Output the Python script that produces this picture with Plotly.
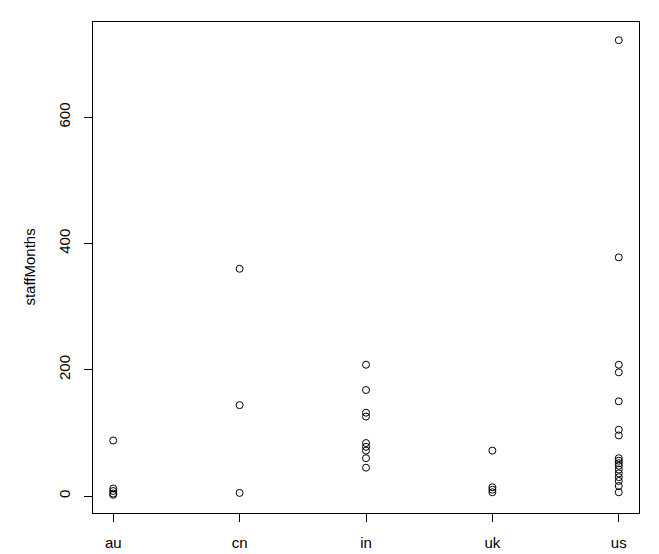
import plotly.graph_objects as go

countries = ["au", "cn", "in", "uk", "us"]
au_vals = [88, 12, 8, 4, 2]
cn_vals = [360, 144, 5]
in_vals = [208, 168, 132, 126, 84, 78, 72, 60, 45]
uk_vals = [72, 14, 10, 6]
us_vals = [722, 378, 208, 196, 150, 105, 96, 60, 56, 52, 48, 42, 36, 30, 24, 16, 6]
y_ticks = [0, 200, 400, 600]

groups = [au_vals, cn_vals, in_vals, uk_vals, us_vals]
xs, ys = [], []
for c, vals in zip(countries, groups):
    xs += [c] * len(vals)
    ys += vals

ymin, ymax = min(ys), max(ys)
pad = 0.04 * (ymax - ymin)

fig = go.Figure(go.Scatter(
    x=xs, y=ys, mode="markers",
    marker=dict(symbol="circle-open", size=7, color="black", line=dict(width=1, color="black")),
    showlegend=False, hoverinfo="x+y",
))

font = dict(family="Liberation Sans, Arial, Helvetica, sans-serif", size=15, color="black")
# page body has an 8px default margin, so the figure is sized to fit the 659x554 window
fig.update_layout(
    template="none",
    width=651, height=546,
    margin=dict(l=85, r=20, t=14, b=41, pad=0, autoexpand=False),
    paper_bgcolor="white", plot_bgcolor="white",
    font=font,
    xaxis=dict(type="category", categoryorder="array", categoryarray=countries,
               range=[-0.16, len(countries) - 1 + 0.16], automargin=False,
               showgrid=False, zeroline=False, showline=True, mirror=True,
               linecolor="black", linewidth=1,
               ticks="outside", ticklen=8, tickcolor="black", tickwidth=1,
               ticklabelstandoff=8, tickfont=font),
    yaxis=dict(range=[ymin - pad, ymax + pad], tickvals=y_ticks, automargin=False,
               showgrid=False, zeroline=False, showline=True, mirror=True,
               linecolor="black", linewidth=1,
               ticks="outside", ticklen=8, tickcolor="black", tickwidth=1,
               tickangle=-90, ticklabelstandoff=8, tickfont=font),
    annotations=[dict(text="staffMonths", textangle=-90, xref="paper", yref="paper",
                      x=-0.117, y=0.5, showarrow=False, font=font,
                      xanchor="center", yanchor="middle")],
)

fig.write_html("out.html")
